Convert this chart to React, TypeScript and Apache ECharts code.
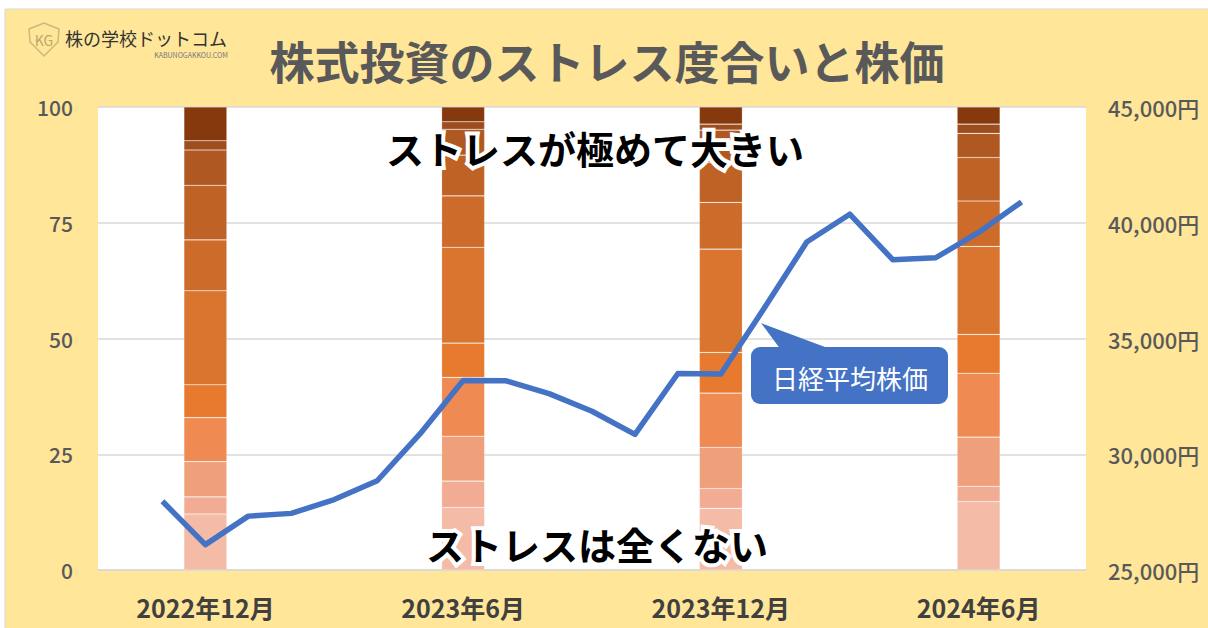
import React, { useEffect, useRef } from "react";
import * as echarts from "echarts";

const months: string[] = [
  "2022年10月", "2022年11月", "2022年12月",
  "2023年1月", "2023年2月", "2023年3月", "2023年4月", "2023年5月", "2023年6月",
  "2023年7月", "2023年8月", "2023年9月", "2023年10月", "2023年11月", "2023年12月",
  "2024年1月", "2024年2月", "2024年3月", "2024年4月", "2024年5月", "2024年6月",
  "2024年7月", "2024年8月",
];

const shownLabels: string[] = ["2022年12月", "2023年6月", "2023年12月", "2024年6月"];

const nikkei: (number | null)[] = [
  null, 27968, 26095, 27327, 27446, 28041, 28856, 30888, 33189, 33172, 32619,
  31858, 30859, 33487, 33464, 36287, 39166, 40369, 38406, 38488, 39583, 40900, null,
];

// stress level shares (level 0 = 全くない ... level 10 = 極めて大きい), per survey month
const surveyMonths: string[] = ["2022年12月", "2023年6月", "2023年12月", "2024年6月"];
const level0: number[] = [12.1, 13.5, 13.3, 14.8];
const level1: number[] = [3.7, 5.7, 4.3, 3.3];
const level2: number[] = [7.6, 9.7, 8.9, 10.6];
const level3: number[] = [9.5, 12.7, 11.7, 13.8];
const level4: number[] = [7.1, 7.4, 8.8, 8.4];
const level5: number[] = [20.3, 20.7, 22.3, 19.0];
const level6: number[] = [11.0, 11.1, 10.1, 9.8];
const level7: number[] = [11.8, 8.8, 8.6, 9.4];
const level8: number[] = [7.6, 5.6, 7.0, 5.2];
const level9: number[] = [2.0, 1.6, 1.3, 2.0];
const level10: number[] = [7.3, 3.2, 3.7, 3.7];

const levels: number[][] = [level0, level1, level2, level3, level4, level5, level6, level7, level8, level9, level10];
const levelColors: string[] = [
  "#F4BBA6", "#F2AC93", "#F09F7B", "#EE8A52", "#E77A2E", "#D9752E",
  "#CD6B2B", "#BF6226", "#AF5822", "#9E4D1F", "#86390C",
];

const leftTicks = { min: 0, max: 100, interval: 25 };
const rightTicks = { min: 25000, max: 45000, interval: 5000 };

const FONT = "'Noto Sans CJK JP', 'Noto Sans', sans-serif";

function spread(vals: number[]): (number | string)[] {
  const arr: (number | string)[] = months.map(() => "-");
  surveyMonths.forEach((m, i) => {
    const idx = months.indexOf(m);
    arr[idx] = vals[i];
  });
  return arr;
}

function outlinedText(text: string, x: number, y: number, size: number) {
  const base = {
    x,
    y,
    style: {
      text,
      fontSize: size,
      fontWeight: "bold",
      fontFamily: FONT,
      textAlign: "center",
      textVerticalAlign: "middle",
    },
  };
  return [
    {
      type: "text",
      ...base,
      z: 50,
      style: { ...base.style, fill: "#fff", stroke: "#fff", lineWidth: 8, lineJoin: "round" },
    },
    {
      type: "text",
      ...base,
      z: 51,
      style: { ...base.style, fill: "#000" },
    },
  ];
}

export default function App() {
  const ref = useRef<HTMLDivElement>(null);

  useEffect(() => {
    if (!ref.current) return;
    const chart = echarts.init(ref.current, null, { renderer: "svg" });

    const barSeries = levels.map((vals, i) => ({
      type: "bar",
      name: `レベル${i}`,
      stack: "stress",
      yAxisIndex: 0,
      barWidth: 43,
      data: spread(vals),
      itemStyle: {
        color: levelColors[i],
        borderColor: "rgba(255,255,255,0.3)",
        borderWidth: 0.6,
      },
      z: 2,
    }));

    const option: any = {
      animation: false,
      backgroundColor: "transparent",
      textStyle: { fontFamily: FONT },
      grid: {
        left: 98,
        right: 122,
        top: 107,
        bottom: 58,
        show: true,
        backgroundColor: "#ffffff",
        borderWidth: 0,
        containLabel: false,
      },
      xAxis: {
        type: "category",
        data: months,
        axisLine: { show: true, lineStyle: { color: "#D9D9D9", width: 1.5 } },
        axisTick: { show: false },
        axisLabel: {
          interval: (i: number, v: string) => shownLabels.includes(v),
          margin: 24,
          fontSize: 25,
          fontWeight: "bold",
          color: "#404040",
          fontFamily: FONT,
        },
      },
      yAxis: [
        {
          type: "value",
          ...leftTicks,
          axisLine: { show: false },
          axisTick: { show: false },
          splitLine: { show: true, lineStyle: { color: "#D9D9D9", width: 1.5 } },
          axisLabel: { margin: 25, fontSize: 21, fontWeight: 500, color: "#595959", fontFamily: FONT },
        },
        {
          type: "value",
          ...rightTicks,
          position: "right",
          axisLine: { show: false },
          axisTick: { show: false },
          splitLine: { show: false },
          axisLabel: {
            margin: 22,
            fontSize: 22,
            fontWeight: 500,
            color: "#595959",
            fontFamily: FONT,
            formatter: (v: number) => v.toLocaleString("en-US") + "円",
          },
        },
      ],
      series: [
        ...barSeries,
        {
          type: "line",
          name: "日経平均株価",
          yAxisIndex: 1,
          data: nikkei,
          showSymbol: false,
          symbol: "none",
          lineStyle: { color: "#4472C4", width: 5.5, join: "round" },
          z: 10,
        },
      ],
      graphic: [
        {
          type: "rect",
          shape: { x: 5, y: 9, width: 1210, height: 630 },
          style: { fill: "#FFE699", stroke: "#D9D9D9", lineWidth: 1 },
          z: -10,
          silent: true,
        },
        {
          type: "text",
          x: 607,
          y: 60,
          style: {
            text: "株式投資のストレス度合いと株価",
            fontSize: 45,
            fontWeight: "bold",
            fontFamily: FONT,
            fill: "#595959",
            textAlign: "center",
            textVerticalAlign: "middle",
          },
          z: 20,
        },
        // logo
        {
          type: "polygon",
          shape: {
            points: [[29, 29], [44, 23], [59, 29], [58, 42], [44, 56], [30, 42]],
          },
          style: { fill: "none", stroke: "#C9B97C", lineWidth: 1.5 },
          z: 20,
        },
        {
          type: "text",
          x: 44,
          y: 40,
          style: {
            text: "KG",
            fontSize: 14,
            fontFamily: FONT,
            fill: "#B8A86A",
            textAlign: "center",
            textVerticalAlign: "middle",
          },
          z: 20,
        },
        {
          type: "text",
          x: 65,
          y: 38,
          style: {
            text: "株の学校ドットコム",
            fontSize: 18,
            fontFamily: FONT,
            fill: "#333333",
            textAlign: "left",
            textVerticalAlign: "middle",
          },
          z: 20,
        },
        {
          type: "text",
          x: 228,
          y: 55,
          style: {
            text: "KABUNOGAKKOU.COM",
            fontSize: 7,
            fontFamily: FONT,
            fill: "#777777",
            textAlign: "right",
            textVerticalAlign: "middle",
          },
          z: 20,
        },
        ...outlinedText("ストレスが極めて大きい", 595, 147, 38),
        ...outlinedText("ストレスは全くない", 597, 543, 38),
        // callout
        {
          type: "polygon",
          shape: { points: [[761, 323], [781, 350], [833, 350]] },
          style: { fill: "#4472C4" },
          z: 30,
        },
        {
          type: "rect",
          shape: { x: 751, y: 347, width: 197, height: 57, r: 9 },
          style: { fill: "#4472C4" },
          z: 30,
        },
        {
          type: "text",
          x: 850,
          y: 377,
          style: {
            text: "日経平均株価",
            fontSize: 26,
            fontFamily: FONT,
            fill: "#ffffff",
            textAlign: "center",
            textVerticalAlign: "middle",
          },
          z: 31,
        },
      ],
    };

    chart.setOption(option);
    return () => chart.dispose();
  }, []);

  return (
    <div
      style={{ position: "fixed", left: 0, top: 0, width: 1208, height: 628, background: "#ffffff" }}
    >
      <div ref={ref} style={{ width: 1208, height: 628 }} />
    </div>
  );
}
